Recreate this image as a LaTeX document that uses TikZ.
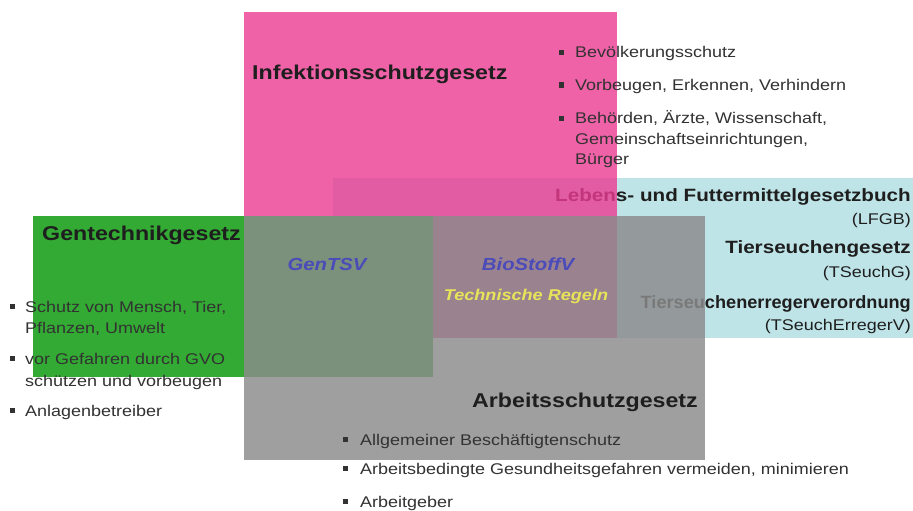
\documentclass[tikz,border=0pt]{standalone}
\usepackage{fontspec}
\setmainfont{Liberation Sans}[FakeStretch=1.16]
\newfontfamily\narrowfam{Liberation Sans}[FakeStretch=1.02]
\definecolor{pinkc}{RGB}{236,59,146}
\definecolor{bluec}{RGB}{190,228,232}
\definecolor{greenc}{RGB}{51,170,51}
\definecolor{grayc}{RGB}{140,140,140}
\definecolor{headc}{RGB}{30,30,30}
\definecolor{itemc}{RGB}{50,50,50}
\definecolor{lblue}{RGB}{75,75,185}
\definecolor{lyellow}{RGB}{232,228,90}
\begin{document}
\begin{tikzpicture}[x=1pt,y=-1pt,
  head/.style={font=\fontsize{20}{24}\selectfont\bfseries, text=headc, inner sep=0pt, anchor=base west},
  item/.style={font=\fontsize{15.5}{20}\selectfont, text=itemc, inner sep=0pt, anchor=base west},
  bul/.style={fill=itemc, minimum size=5pt, inner sep=0pt, draw=none},
  rhead/.style={font=\fontsize{17.8}{22}\selectfont\bfseries, text=headc, inner sep=0pt, anchor=base east},
  rsub/.style={font=\fontsize{15.5}{20}\selectfont, text=headc, inner sep=0pt, anchor=base east},
  inlbl/.style={font=\fontsize{17.5}{21}\selectfont\bfseries\itshape, text=lblue, inner sep=0pt, anchor=base},
]
\useasboundingbox (0,0) rectangle (913,511);
\fill[white] (0,0) rectangle (913,511);

% Lebensmittel / Tierseuchen box
\fill[bluec] (333,178) rectangle (913,338);
\node[rhead] (lfgb) at (911,201) {Lebens- und Futtermittelgesetzbuch};
\node[rsub] (lfgbs) at (911,224) {(LFGB)};
\node[rhead] (tsg) at (911,253) {Tierseuchengesetz};
\node[rsub] (tsgs) at (911,277) {(TSeuchG)};
\node[rhead, font=\fontsize{17.8}{22}\narrowfam\selectfont\bfseries] (tsev) at (911,308) {Tierseuchenerregerverordnung};
\node[rsub] (tsevs) at (911,330) {(TSeuchErregerV)};

% Infektionsschutzgesetz box
\fill[pinkc, opacity=0.8] (244,12) rectangle (617,338);
\node[head] (ifsg) at (252,79) {Infektionsschutzgesetz};
\node[bul] (ib1) at (561,52.5) {};
\node[item] (i1) at (575,58) {Bevölkerungsschutz};
\node[bul] (ib2) at (561,85) {};
\node[item] (i2) at (575,90.5) {Vorbeugen, Erkennen, Verhindern};
\node[bul] (ib3) at (561,118) {};
\node[item] (i3a) at (575,123.5) {Behörden, Ärzte, Wissenschaft,};
\node[item] (i3b) at (575,144) {Gemeinschaftseinrichtungen,};
\node[item] (i3c) at (575,164.5) {Bürger};

% Gentechnikgesetz box
\fill[greenc] (33,216) rectangle (433,377);
\node[head] (gtg) at (42,240) {Gentechnikgesetz};
\node[bul] (gb1) at (12,306.5) {};
\node[item] (g1a) at (25,312) {Schutz von Mensch, Tier,};
\node[item] (g1b) at (25,333) {Pflanzen, Umwelt};
\node[bul] (gb2) at (12,358.5) {};
\node[item] (g2a) at (25,364) {vor Gefahren durch GVO};
\node[item] (g2b) at (25,386) {schützen und vorbeugen};
\node[bul] (gb3) at (12,410.5) {};
\node[item] (g3) at (25,416) {Anlagenbetreiber};

% Arbeitsschutzgesetz box
\fill[grayc, opacity=0.83] (244,216) rectangle (705,460);
\node[head] (asg) at (472,407) {Arbeitsschutzgesetz};
\node[bul] (ab1) at (345,439.5) {};
\node[item] (a1) at (360,445) {Allgemeiner Beschäftigtenschutz};
\node[bul] (ab2) at (345,468.5) {};
\node[item] (a2) at (360,474) {Arbeitsbedingte Gesundheitsgefahren vermeiden, minimieren};
\node[bul] (ab3) at (345,501.5) {};
\node[item] (a3) at (360,507) {Arbeitgeber};

% Overlap labels
\node[inlbl] (gentsv) at (327,270) {GenTSV};
\node[inlbl] (biostoffv) at (528,270) {BioStoffV};
\node[inlbl, text=lyellow, font=\fontsize{15.6}{19}\selectfont\bfseries\itshape] (trba) at (526,300) {Technische Regeln};
\end{tikzpicture}
\end{document}
